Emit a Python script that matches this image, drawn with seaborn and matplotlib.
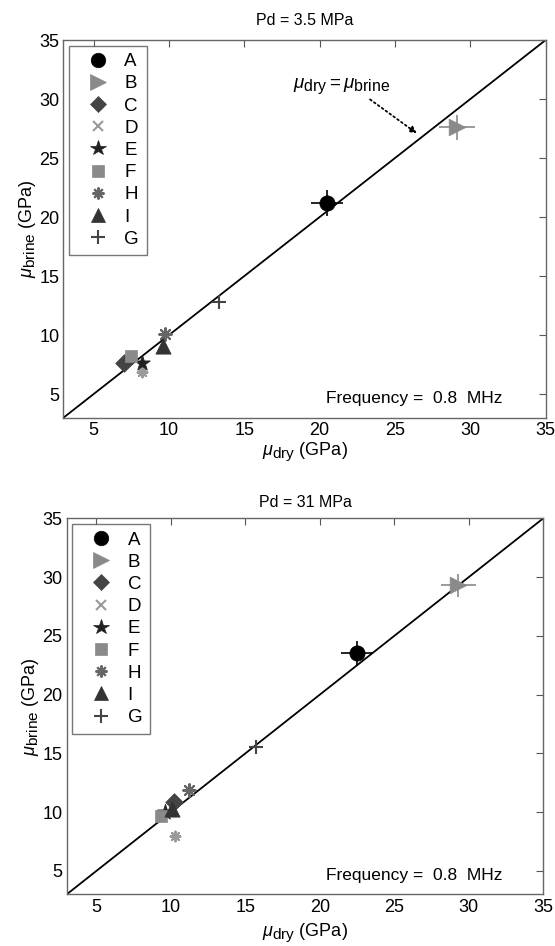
import matplotlib
matplotlib.use("Agg")
import matplotlib.pyplot as plt
import matplotlib._mathtext as _mt
from matplotlib.lines import Line2D
import seaborn as sns
import pandas as pd

_mt.SHRINK_FACTOR = 0.85

samples = ['A', 'B', 'C', 'D', 'E', 'F', 'H', 'I', 'G']
colors = ['#000000', '#8a8a8a', '#444444', '#9a9a9a', '#222222', '#8a8a8a', '#666666', '#333333', '#444444']
markers = ['o', '>', 'D', 'x', '*', 's', (8, 2, 0), '^', '+']
plot_markers = ['o', '>', 'D', (8, 2, 0), '*', 's', (8, 2, 0), '^', '+']
sizes = [11, 12, 9, 7, 12, 9, 9, 11, 10]

dry_35 = [20.5, 29.1, 7.0, 8.2, 8.2, 7.5, 9.75, 9.6, 13.35]
brine_35 = [21.2, 27.6, 7.6, 6.85, 7.6, 8.2, 10.05, 9.1, 12.8]
xerr_35 = [1.05, 1.2, 0, 0, 0, 0, 0, 0, 0]
yerr_35 = [1.1, 1.05, 0, 0, 0, 0, 0, 0, 0]

dry_31 = [22.5, 29.3, 10.2, 10.3, 9.6, 9.3, 11.2, 10.1, 15.7]
brine_31 = [23.5, 29.3, 10.9, 8.0, 10.0, 9.7, 11.9, 10.3, 15.5]
xerr_31 = [1.05, 1.2, 0, 0, 0, 0, 0, 0, 0]
yerr_31 = [1.1, 1.0, 0, 0, 0, 0, 0, 0, 0]

ticks = [5, 10, 15, 20, 25, 30, 35]
titles = ['Pd = 3.5 MPa', 'Pd = 31 MPa']

sns.set_style("white")
plt.rcParams['font.family'] = ['Liberation Sans', 'DejaVu Sans']
plt.rcParams['mathtext.fontset'] = 'custom'
plt.rcParams['mathtext.rm'] = 'Liberation Sans'
plt.rcParams['mathtext.it'] = 'Liberation Sans:italic'
plt.rcParams['text.color'] = 'black'
plt.rcParams['axes.labelcolor'] = 'black'
plt.rcParams['xtick.color'] = 'black'
plt.rcParams['ytick.color'] = 'black'

fig = plt.figure(figsize=(5.55, 9.46), dpi=100)
ax1 = fig.add_axes([0.1144, 0.5585, 0.8688, 0.3992])
ax2 = fig.add_axes([0.1202, 0.0546, 0.8587, 0.3975])

datasets = [(ax1, dry_35, brine_35, xerr_35, yerr_35, titles[0], 11, 1),
            (ax2, dry_31, brine_31, xerr_31, yerr_31, titles[1], 8, 4)]

for k, (ax, dry, brine, xe, ye, title, tpad, xlpad) in enumerate(datasets):
    df = pd.DataFrame({'dry': dry, 'brine': brine, 'sample': samples})
    ax.plot([3, 35], [3, 35], color='black', lw=1.3, zorder=1)
    for i, s in enumerate(samples):
        if xe[i] > 0:
            ax.errorbar(dry[i], brine[i], xerr=xe[i], yerr=ye[i], fmt='none',
                        ecolor=colors[i], elinewidth=1.2, capsize=0, zorder=2)
        sub = df[df['sample'] == s]
        m = plot_markers[i]
        filled = m not in ('+', 'x') and not isinstance(m, tuple)
        sns.scatterplot(data=sub, x='dry', y='brine', ax=ax, marker=m,
                        s=sizes[i] ** 2, color=colors[i],
                        edgecolor=colors[i] if filled else None,
                        linewidth=1.5 if not filled else 0.5, zorder=3, legend=False)
    ax.set_xlim(3, 35)
    ax.set_ylim(3, 35)
    ax.set_xticks(ticks)
    ax.set_yticks(ticks)
    ax.tick_params(direction='in', top=True, right=True, length=5, width=0.8,
                   color='#555555', labelsize=13, pad=3)
    for sp in ax.spines.values():
        sp.set_color('#666666')
        sp.set_linewidth(1.0)
    ax.set_xlabel(r'$\mu_{\mathrm{dry}}$ (GPa)', fontsize=13, labelpad=xlpad)
    ax.set_ylabel(r'$\mu_{\mathrm{brine}}$ (GPa)', fontsize=13, labelpad=1)
    ax.set_title(title, fontsize=11.5, pad=tpad)
    ax.text(20.4, 4.6, 'Frequency =  0.8  MHz', fontsize=12.5, va='center', ha='left')
    handles = [Line2D([], [], linestyle='none', marker=markers[i], color=colors[i],
                      markersize=sizes[i] * 0.95,
                      markeredgewidth=1.5 if markers[i] in ('x', '+') or isinstance(markers[i], tuple) else 0.5)
               for i in range(len(samples))]
    leg = ax.legend(handles, samples, loc='upper left', fontsize=13.5, frameon=True,
                    fancybox=False, borderaxespad=0.3, labelspacing=0.27,
                    handletextpad=0.3, borderpad=0.4, handlelength=2.25)
    leg.get_frame().set_edgecolor('#555555')
    leg.get_frame().set_linewidth(1.0)

ax1.annotate('', xy=(26.6, 26.95), xytext=(23.2, 30.1),
             arrowprops=dict(arrowstyle='-|>', linestyle=':', color='black', lw=1.3,
                             mutation_scale=10))
ax1.text(18.2, 31.1, r'$\mu_{\mathrm{dry}} = \mu_{\mathrm{brine}}$', fontsize=13.5, va='center', ha='left')

fig.savefig('out.png', dpi=100)
